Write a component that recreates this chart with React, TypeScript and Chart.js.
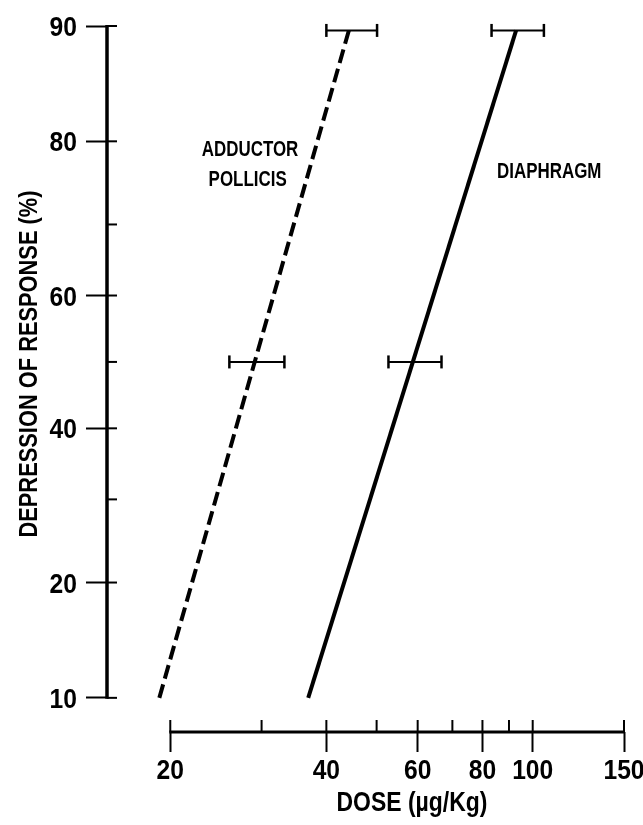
import React, { useEffect, useRef } from 'react';
import { Chart, LinearScale, registerables } from 'chart.js';

// ---------------- data ----------------
const doseTicks = [20, 30, 40, 50, 60, 70, 80, 90, 100, 150];
const doseTickLabels = [20, 40, 60, 80, 100, 150];
const responseTicks = [10, 20, 30, 40, 50, 60, 70, 80, 90];
const responseTickLabels = [10, 20, 40, 60, 80, 90];

const doseAxisMin = 15.1;
const doseAxisMax = 150;
const responseAxisMin = 7.9;
const responseAxisMax = 90;

const adductorDose = [19.05, 44.2];
const adductorResponse = [10, 89.7];
const diaphragmDose = [36.9, 92.9];
const diaphragmResponse = [10, 89.7];

const adductorErrResponse = [50, 89.7];
const adductorErrLow = [26.0, 40.0];
const adductorErrHigh = [33.2, 50.1];
const diaphragmErrResponse = [50, 89.7];
const diaphragmErrLow = [52.7, 83.3];
const diaphragmErrHigh = [66.7, 105.1];

const noteTexts = ['ADDUCTOR', 'POLLICIS', 'DIAPHRAGM'];
const noteDose = [28.5, 28.2, 107.6];
const noteResponse = [79.3, 75.9, 76.8];

const xTitle = 'DOSE (\u00B5g/Kg)';
const yTitle = 'DEPRESSION OF RESPONSE (%)';

const FONT = "'Liberation Sans', Arial, sans-serif";
const W = 643;
const H = 825;

// ---------------- probit helpers ----------------
function probit(p: number): number {
  const a = [-3.969683028665376e1, 2.209460984245205e2, -2.759285104469687e2, 1.38357751867269e2, -3.066479806614716e1, 2.506628277459239];
  const b = [-5.447609879822406e1, 1.615858368580409e2, -1.556989798598866e2, 6.680131188771972e1, -1.328068155288572e1];
  const c = [-7.784894002430293e-3, -3.223964580411365e-1, -2.400758277161838, -2.549732539343734, 4.374664141464968, 2.938163982698783];
  const d = [7.784695709041462e-3, 3.224671290700398e-1, 2.445134137142996, 3.754408661907416];
  const pl = 0.02425;
  if (p <= 0) return -8;
  if (p >= 1) return 8;
  if (p < pl) {
    const q = Math.sqrt(-2 * Math.log(p));
    return (((((c[0] * q + c[1]) * q + c[2]) * q + c[3]) * q + c[4]) * q + c[5]) / ((((d[0] * q + d[1]) * q + d[2]) * q + d[3]) * q + 1);
  }
  if (p > 1 - pl) {
    const q = Math.sqrt(-2 * Math.log(1 - p));
    return -(((((c[0] * q + c[1]) * q + c[2]) * q + c[3]) * q + c[4]) * q + c[5]) / ((((d[0] * q + d[1]) * q + d[2]) * q + d[3]) * q + 1);
  }
  const q = p - 0.5;
  const r = q * q;
  return ((((((a[0] * r + a[1]) * r + a[2]) * r + a[3]) * r + a[4]) * r + a[5]) * q) / (((((b[0] * r + b[1]) * r + b[2]) * r + b[3]) * r + b[4]) * r + 1);
}

function normCdf(z: number): number {
  const t = 1 / (1 + 0.2316419 * Math.abs(z));
  const dd = 0.3989423 * Math.exp((-z * z) / 2);
  const p = dd * t * (0.3193815 + t * (-0.3565638 + t * (1.781478 + t * (-1.821256 + t * 1.330274))));
  return z > 0 ? 1 - p : p;
}

class ProbitScale extends LinearScale {
  static id = 'probit';
  static defaults = {};
  determineDataLimits() {
    const o: any = this.options;
    this.min = o.min;
    this.max = o.max;
  }
  buildTicks() {
    return responseTicks.map((v) => ({ value: v }));
  }
  configure() {
    super.configure();
    (this as any)._zmin = probit(this.min / 100);
    (this as any)._zmax = probit(this.max / 100);
  }
  getPixelForValue(value: number) {
    const zmin = (this as any)._zmin;
    const zmax = (this as any)._zmax;
    return this.getPixelForDecimal((probit(value / 100) - zmin) / (zmax - zmin));
  }
  getValueForPixel(pixel: number) {
    const zmin = (this as any)._zmin;
    const zmax = (this as any)._zmax;
    const dec = this.getDecimalForPixel(pixel);
    return 100 * normCdf(zmin + dec * (zmax - zmin));
  }
}

Chart.register(...registerables, ProbitScale as any);

const pts = (xs: number[], ys: number[]) => xs.map((x, i) => ({ x, y: ys[i] }));

function errorBarSets(resp: number[], low: number[], high: number[]) {
  return resp.map((r, i) => ({
    data: [
      { x: low[i], y: r },
      { x: high[i], y: r },
    ],
    borderColor: '#000',
    borderWidth: 2,
    pointStyle: 'line',
    pointRotation: 90,
    pointRadius: 6.5,
    pointBorderWidth: 2.5,
    pointBorderColor: '#000',
    pointBackgroundColor: '#000',
    clip: false,
  }));
}

// condensed bold text: Liberation Sans Bold squeezed horizontally
function condensedText(
  ctx: CanvasRenderingContext2D,
  text: string,
  x: number,
  y: number,
  size: number,
  squeeze: number,
  align: CanvasTextAlign,
  rotate = 0
) {
  ctx.save();
  ctx.translate(x, y);
  if (rotate) ctx.rotate(rotate);
  ctx.scale(squeeze, 1);
  ctx.font = `bold ${size}px ${FONT}`;
  ctx.textAlign = align;
  ctx.textBaseline = 'alphabetic';
  ctx.fillText(text, 0, 0);
  ctx.restore();
}

const decorPlugin = {
  id: 'decor',
  afterDraw(chart: any) {
    const ctx = chart.ctx as CanvasRenderingContext2D;
    const xs = chart.scales.x;
    const ys = chart.scales.y;
    const area = chart.chartArea;
    ctx.save();
    ctx.strokeStyle = '#000';
    ctx.fillStyle = '#000';
    ctx.lineCap = 'butt';

    // y axis line
    ctx.lineWidth = 3.5;
    ctx.beginPath();
    ctx.moveTo(area.left, ys.getPixelForValue(responseTicks[0]) + 1);
    ctx.lineTo(area.left, ys.getPixelForValue(responseTicks[responseTicks.length - 1]) - 1);
    ctx.stroke();
    // inner y ticks
    ctx.lineWidth = 2;
    for (const v of responseTicks) {
      const y = ys.getPixelForValue(v);
      ctx.beginPath();
      ctx.moveTo(area.left, y);
      ctx.lineTo(area.left + 10, y);
      ctx.stroke();
    }

    // x axis line
    ctx.lineWidth = 3;
    ctx.beginPath();
    ctx.moveTo(xs.getPixelForValue(doseTicks[0]) - 1, area.bottom);
    ctx.lineTo(xs.getPixelForValue(doseTicks[doseTicks.length - 1]) + 1, area.bottom);
    ctx.stroke();
    ctx.lineWidth = 2;
    for (const v of doseTicks) {
      const x = xs.getPixelForValue(v);
      ctx.beginPath();
      ctx.moveTo(x, area.bottom);
      ctx.lineTo(x, area.bottom - 12);
      ctx.stroke();
    }

    // tick labels
    for (const v of responseTickLabels) {
      condensedText(ctx, String(v), area.left - 30, ys.getPixelForValue(v) + 10, 28, 0.88, 'right');
    }
    for (const v of doseTickLabels) {
      condensedText(ctx, String(v), xs.getPixelForValue(v), area.bottom + 47, 28, 0.88, 'center');
    }

    // curve labels
    noteTexts.forEach((t, i) => {
      condensedText(ctx, t, xs.getPixelForValue(noteDose[i]), ys.getPixelForValue(noteResponse[i]) + 8, 22, 0.77, 'center');
    });

    // axis titles
    condensedText(ctx, xTitle, 412, 811, 27, 0.85, 'center');
    condensedText(ctx, yTitle, 37, 364, 26, 0.84, 'center', -Math.PI / 2);
    ctx.restore();
  },
};

export default function App() {
  const ref = useRef<HTMLCanvasElement>(null);
  useEffect(() => {
    const chart = new Chart(ref.current as HTMLCanvasElement, {
      type: 'line',
      data: {
        datasets: [
          {
            data: pts(adductorDose, adductorResponse),
            borderColor: '#000',
            borderWidth: 4,
            borderDash: [14, 6],
            pointRadius: 0,
            clip: false,
          },
          {
            data: pts(diaphragmDose, diaphragmResponse),
            borderColor: '#000',
            borderWidth: 4,
            pointRadius: 0,
            clip: false,
          },
          ...errorBarSets(adductorErrResponse, adductorErrLow, adductorErrHigh),
          ...errorBarSets(diaphragmErrResponse, diaphragmErrLow, diaphragmErrHigh),
        ] as any,
      },
      options: {
        responsive: false,
        animation: false,
        layout: { padding: { top: 26, right: 19, bottom: 0, left: 0 } },
        plugins: {
          legend: { display: false },
          tooltip: { enabled: false },
          title: { display: false },
        },
        scales: {
          x: {
            type: 'logarithmic',
            position: 'bottom',
            min: doseAxisMin,
            max: doseAxisMax,
            afterBuildTicks: (s: any) => {
              s.ticks = doseTicks.map((v) => ({ value: v }));
            },
            afterFit: (s: any) => {
              s.height = 93;
              s.paddingLeft = 0;
              s.paddingRight = 0;
            },
            ticks: { display: false, autoSkip: false, maxRotation: 0, minRotation: 0 },
            grid: {
              drawOnChartArea: false,
              drawTicks: true,
              tickLength: 20,
              tickWidth: 2,
              tickColor: (c: any) => (c.tick && doseTickLabels.includes(c.tick.value) ? '#000' : 'rgba(0,0,0,0)'),
            },
            border: { display: false },
          },
          y: {
            type: 'probit' as any,
            position: 'left',
            min: responseAxisMin,
            max: responseAxisMax,
            afterFit: (s: any) => {
              s.width = 107;
              s.paddingTop = 0;
              s.paddingBottom = 0;
            },
            ticks: { display: false, autoSkip: false },
            grid: {
              drawOnChartArea: false,
              drawTicks: true,
              tickLength: 21,
              tickWidth: 2,
              tickColor: (c: any) => (c.tick && responseTickLabels.includes(c.tick.value) ? '#000' : 'rgba(0,0,0,0)'),
            },
            border: { display: false },
          } as any,
        },
      },
      plugins: [decorPlugin],
    } as any);
    return () => chart.destroy();
  }, []);
  return (
    <div style={{ position: 'absolute', left: 0, top: 0, width: W, height: H, background: '#fff' }}>
      <canvas ref={ref} width={W} height={H} style={{ display: 'block' }} />
    </div>
  );
}
